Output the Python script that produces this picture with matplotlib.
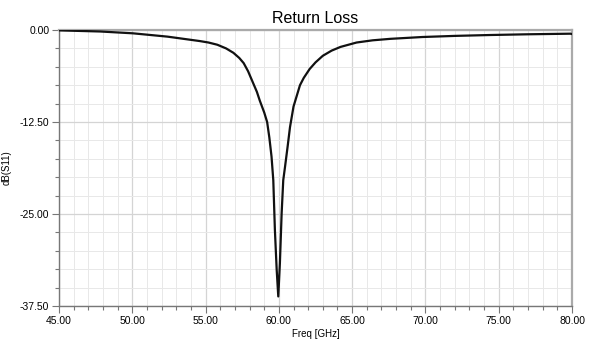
import matplotlib
matplotlib.use("Agg")
import matplotlib.pyplot as plt
from matplotlib.ticker import MultipleLocator, FormatStrFormatter

freq_ghz = [45.0, 47.8, 50.05, 52.4, 54.6, 55.2, 55.8, 56.4, 56.9, 57.3, 57.6, 57.9,
            58.2, 58.5, 58.7, 59.0, 59.2, 59.35, 59.5, 59.62, 59.73, 59.85, 59.96,
            60.07, 60.19, 60.3, 60.42, 60.6, 60.76, 61.0, 61.44, 61.7, 62.1, 62.5,
            63.0, 63.6, 64.2, 65.3, 66.4, 67.6, 69.8, 72.0, 74.4, 77.0, 79.9, 80.0]
s11_db = [-0.05, -0.2, -0.45, -0.9, -1.5, -1.7, -2.0, -2.5, -3.1, -3.8, -4.5, -5.6,
          -7.0, -8.4, -9.6, -11.2, -12.5, -14.6, -17.2, -20.4, -27.2, -32.5, -36.2,
          -31.7, -24.9, -20.4, -18.6, -15.8, -13.2, -10.4, -7.5, -6.5, -5.3, -4.4,
          -3.5, -2.8, -2.3, -1.7, -1.4, -1.2, -0.95, -0.8, -0.68, -0.58, -0.5, -0.55]

title = "Return Loss"
xlabel = "Freq [GHz]"
ylabel = "dB(S11)"

plt.rcParams['font.family'] = ['Liberation Sans', 'DejaVu Sans']

fig = plt.figure(figsize=(5.9, 3.56), dpi=100)
ax = fig.add_axes([0.1, 0.1404, 0.8695, 0.7753])

ax.plot(freq_ghz, s11_db, color='#111111', lw=1.6, zorder=3)

ax.set_xlim(45, 80)
ax.set_ylim(-37.5, 0)
ax.xaxis.set_major_locator(MultipleLocator(5))
ax.xaxis.set_minor_locator(MultipleLocator(1))
ax.yaxis.set_major_locator(MultipleLocator(12.5))
ax.yaxis.set_minor_locator(MultipleLocator(2.5))
ax.xaxis.set_major_formatter(FormatStrFormatter('%.2f'))
ax.yaxis.set_major_formatter(FormatStrFormatter('%.2f'))

ax.grid(which='major', color='#d4d4d4', lw=0.9)
ax.grid(which='minor', color='#e8e8e8', lw=0.7)
ax.set_axisbelow(True)

for s in ['left', 'bottom']:
    ax.spines[s].set_color('#777777')
    ax.spines[s].set_linewidth(1.0)
for s in ['top', 'right']:
    ax.spines[s].set_color('#aaaaaa')
    ax.spines[s].set_linewidth(1.6)

ax.tick_params(which='major', direction='out', length=5, width=0.8, color='#777777',
               labelsize=7.5, pad=2)
ax.tick_params(which='minor', direction='out', length=3, width=0.8, color='#777777')

ax.set_title(title, fontsize=11.5, pad=5)
ax.set_xlabel(xlabel, fontsize=7, labelpad=2)
ax.set_ylabel(ylabel, fontsize=7)
ax.yaxis.set_label_coords(-0.092, 0.5)

fig.savefig("out.png", dpi=100, facecolor='white')
